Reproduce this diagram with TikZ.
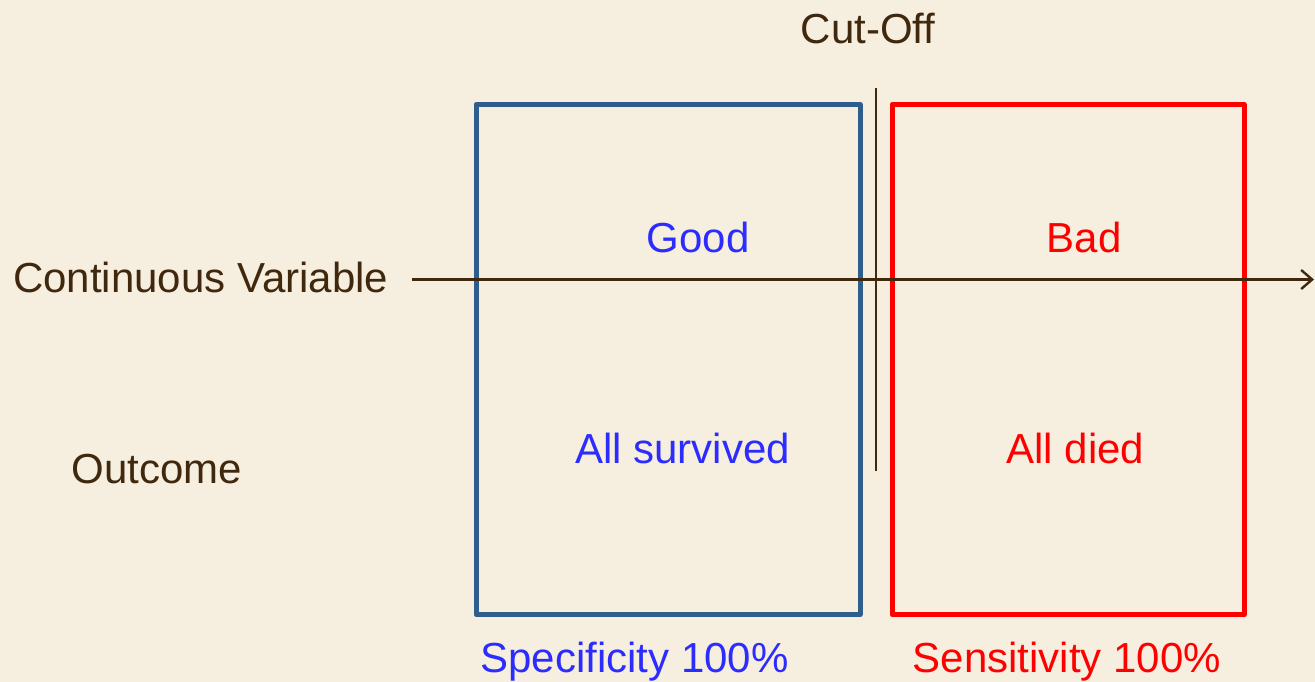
\documentclass[tikz,border=0pt]{standalone}
\usepackage{fontspec}
\setmainfont{Liberation Sans}
\usetikzlibrary{arrows.meta}
\definecolor{parch}{RGB}{246,238,222}
\definecolor{ink}{RGB}{64,40,14}
\definecolor{boxblue}{RGB}{48,94,140}
\definecolor{txtblue}{RGB}{44,44,255}
\definecolor{txtred}{RGB}{255,0,0}
\tikzset{
  lbl/.style={inner sep=0pt, font=\fontsize{42}{50}\selectfont},
  panel/.style={draw, line width=5pt, line join=round, inner sep=0pt, fill=none},
}
\begin{document}
\begin{tikzpicture}[x=1pt,y=-1pt]
  % page and background
  \fill[parch] (0,0) rectangle (1315,682);
  \useasboundingbox (0,0) rectangle (1315,682);

  % the two outcome panels
  \node[panel, draw=boxblue, minimum width=384pt, minimum height=510pt] (good) at (668,359.5) {};
  \node[panel, draw=txtred, minimum width=352pt, minimum height=510pt] (bad) at (1068,359.5) {};

  % cut-off marker
  \coordinate (cuttop) at (876,88);
  \coordinate (cutbot) at (876,471);
  \draw[ink, line width=2.2pt] (cuttop) -- (cutbot);

  % axis of the continuous variable
  \coordinate (axstart) at (412,279.5);
  \coordinate (axend) at (1314,279.5);
  \draw[ink, line width=2.4pt, -{Straight Barb[length=11pt,width=19pt,line width=2.4pt]}] (axstart) -- (axend);

  % labels
  \node[lbl, ink, anchor=base] (cutlbl) at (868,44) {Cut-Off};
  \node[lbl, ink, anchor=base west] (varlbl) at (13,292) {Continuous Variable};
  \node[lbl, ink, anchor=base] (outlbl) at (157,483) {Outcome};

  \node[lbl, txtblue, anchor=base] (goodlbl) at (698,252) {Good};
  \node[lbl, txtred, anchor=base] (badlbl) at (1084,252) {Bad};
  \node[lbl, txtblue, anchor=base] (survlbl) at (682.5,463) {All survived};
  \node[lbl, txtred, anchor=base] (diedlbl) at (1075.5,463) {All died};

  \node[lbl, txtblue, anchor=base] (speclbl) at (634.5,672) {Specificity 100\%};
  \node[lbl, txtred, anchor=base] (senslbl) at (1067,672) {Sensitivity 100\%};
\end{tikzpicture}
\end{document}
